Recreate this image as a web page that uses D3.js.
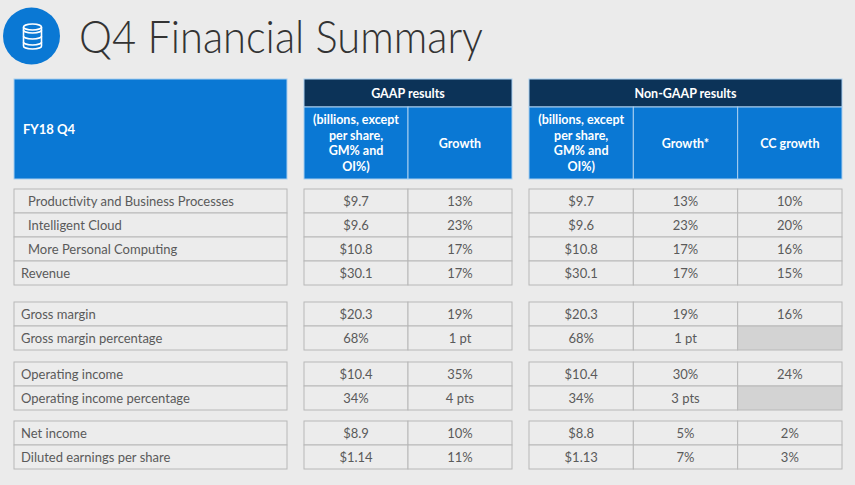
<!doctype html>
<meta charset="utf-8">

<style>
    body {
        margin: 0;
        background-color: #ebebeb;
    }
    text {
        font-family: Lato, "Open Sans", sans-serif;
    }
</style>

<div id="chart"></div>

<script src="https://cdn.jsdelivr.net/npm/d3@7"></script>

<script>

let title = "Q4 Financial Summary"
let cornerLabel = "FY18 Q4"
let blockTitles = ["GAAP results", "Non-GAAP results"]
let gaapHeads = ["(billions, except|per share,|GM% and|OI%)", "Growth"]
let nonGaapHeads = ["(billions, except|per share,|GM% and|OI%)", "Growth*", "CC growth"]

let rowLabels = [
    "Productivity and Business Processes",
    "Intelligent Cloud",
    "More Personal Computing",
    "Revenue",
    "Gross margin",
    "Gross margin percentage",
    "Operating income",
    "Operating income percentage",
    "Net income",
    "Diluted earnings per share"
]
let segments = ["Productivity and Business Processes", "Intelligent Cloud", "More Personal Computing"]
let rowGroup = [0, 0, 0, 0, 1, 1, 2, 2, 3, 3]

let gaapValue     = ["$9.7", "$9.6", "$10.8", "$30.1", "$20.3", "68%", "$10.4", "34%", "$8.9", "$1.14"]
let gaapGrowth    = ["13%", "23%", "17%", "17%", "19%", "1 pt", "35%", "4 pts", "10%", "11%"]
let nonGaapValue  = ["$9.7", "$9.6", "$10.8", "$30.1", "$20.3", "68%", "$10.4", "34%", "$8.8", "$1.13"]
let nonGaapGrowth = ["13%", "23%", "17%", "17%", "19%", "1 pt", "30%", "3 pts", "5%", "7%"]
let ccGrowth      = ["10%", "20%", "16%", "15%", "16%", null, "24%", null, "2%", "3%"]

let width = 855, height = 485
let blue = "#0a78d4", navy = "#0c3358", textGrey = "#5a5a5a", lineGrey = "#b8b8b8"

let svg = d3.select("#chart").append("svg")
    .attr("width", width)
    .attr("height", height)

svg.append("rect").attr("width", width).attr("height", height).attr("fill", "#ebebeb")

// icon
let icon = svg.append("g").attr("transform", "translate(31.5,36)")
icon.append("circle").attr("r", 28.5).attr("fill", blue)
let db = icon.append("g").attr("fill", "none").attr("stroke", "#fff").attr("stroke-width", 1.6)
db.append("ellipse").attr("cx", 1).attr("cy", -9).attr("rx", 9).attr("ry", 3)
;[-3, 3, 9].forEach(dy => {
    db.append("path").attr("d", `M-8,${dy - 3} A9,3 0 0 0 10,${dy - 3}`)
})
db.append("path").attr("d", "M-8,-9 V10 A9,3 0 0 0 10,10 V-9")

svg.append("text")
    .attr("x", 79)
    .attr("y", 53)
    .attr("font-size", 46)
    .attr("font-weight", 300)
    .attr("fill", "#333")
    .attr("textLength", 404)
    .attr("lengthAdjust", "spacingAndGlyphs")
    .text(title)

// layout
let headTop = 79, headMid = 107, headBottom = 179
let labelX = [14, 287]
let gaapX = d3.scaleBand().domain(d3.range(gaapHeads.length)).range([304, 512])
let nonX = d3.scaleBand().domain(d3.range(nonGaapHeads.length)).range([529, 842])

let groupTops = [189, 302, 362, 421]
let rowH = 24
let rows = rowLabels.map((label, i) => {
    let g = rowGroup[i]
    let pos = rowGroup.slice(0, i).filter(x => x == g).length
    return {label, i, g, y: groupTops[g] + pos * rowH}
})

// header
let head = svg.append("g")
head.append("rect")
    .attr("x", labelX[0]).attr("y", headTop)
    .attr("width", labelX[1] - labelX[0]).attr("height", headBottom - headTop)
    .attr("fill", blue).attr("stroke", "#a9cff0").attr("stroke-width", 1)
head.append("text")
    .attr("x", labelX[0] + 9).attr("y", (headTop + headBottom) / 2 + 5)
    .attr("fill", "#fff").attr("font-size", 13).attr("font-weight", 700)
    .text(cornerLabel)

function drawBlock(scale, heads, name) {
    let r = scale.range()
    head.append("rect")
        .attr("x", r[0]).attr("y", headTop)
        .attr("width", r[1] - r[0]).attr("height", headMid - headTop)
        .attr("fill", navy).attr("stroke", "#a9cff0").attr("stroke-width", 1)
    head.append("text")
        .attr("x", (r[0] + r[1]) / 2).attr("y", (headTop + headMid) / 2 + 4.5)
        .attr("text-anchor", "middle").attr("fill", "#fff")
        .attr("font-size", 12.5).attr("font-weight", 700)
        .text(name)

    let sub = head.selectAll(null).data(heads).join("g")
    sub.append("rect")
        .attr("x", (d, i) => scale(i)).attr("y", headMid)
        .attr("width", scale.bandwidth()).attr("height", headBottom - headMid)
        .attr("fill", blue).attr("stroke", "#a9cff0").attr("stroke-width", 1)
    sub.append("text")
        .attr("text-anchor", "middle").attr("fill", "#fff")
        .attr("font-size", 12.5).attr("font-weight", 700)
        .each(function(d, i) {
            let lines = d.split("|")
            let lh = 15.5
            let cy = (headMid + headBottom) / 2
            d3.select(this).selectAll("tspan").data(lines).join("tspan")
                .attr("x", scale(i) + scale.bandwidth() / 2)
                .attr("y", (l, k) => cy + (k - (lines.length - 1) / 2) * lh + 4.5)
                .text(l => l)
        })
}
drawBlock(gaapX, gaapHeads, blockTitles[0])
drawBlock(nonX, nonGaapHeads, blockTitles[1])

// body rows
let body = svg.append("g")

function cell(x, w, y, txt, grey) {
    body.append("rect")
        .attr("x", x).attr("y", y).attr("width", w).attr("height", rowH)
        .attr("fill", grey ? "#d3d3d3" : "#ececec")
        .attr("stroke", lineGrey).attr("stroke-width", 1)
}

rows.forEach(r => {
    cell(labelX[0], labelX[1] - labelX[0], r.y)
    body.append("text")
        .attr("x", labelX[0] + (segments.includes(r.label) ? 14 : 7))
        .attr("y", r.y + rowH / 2 + 4.5)
        .attr("fill", textGrey).attr("font-size", 13)
        .text(r.label)

    let cols = [
        [gaapX, 0, gaapValue], [gaapX, 1, gaapGrowth],
        [nonX, 0, nonGaapValue], [nonX, 1, nonGaapGrowth], [nonX, 2, ccGrowth]
    ]
    cols.forEach(([sc, k, arr]) => {
        let v = arr[r.i]
        cell(sc(k), sc.bandwidth(), r.y, v, v == null)
        if (v != null)
            body.append("text")
                .attr("x", sc(k) + sc.bandwidth() / 2)
                .attr("y", r.y + rowH / 2 + 4.5)
                .attr("text-anchor", "middle")
                .attr("fill", textGrey).attr("font-size", 13)
                .text(v)
    })
})

</script>
